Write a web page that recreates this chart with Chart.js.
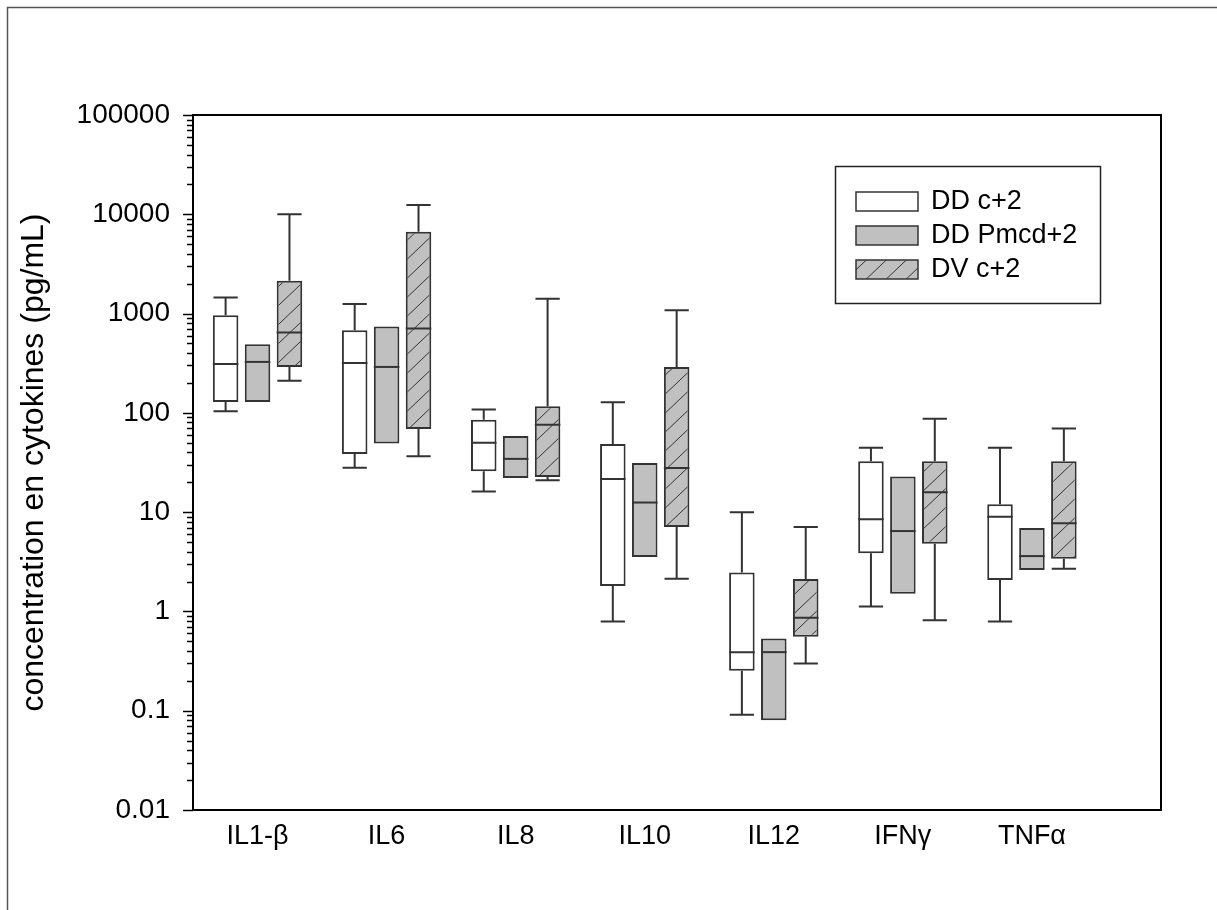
<!DOCTYPE html>
<html>
<head>
<meta charset="utf-8">
<script src="https://cdn.jsdelivr.net/npm/chart.js@4.4.1/dist/chart.umd.min.js"></script>
<style>
  body { margin: 0; background: #fff; }
</style>
</head>
<body>
<canvas id="cytokineChart" width="1217" height="910"></canvas>
<script>
// Box plot data, one row per cytokine: [min, q1, median, q3, max]
// (null = no whisker drawn)

const categories = ["IL1-β", "IL6", "IL8", "IL10", "IL12", "IFNγ", "TNFα"];

const ddC2 = [
    [104, 129, 311, 964, 1450],
    [28, 38.5, 318, 680, 1250],
    [16.1, 25.8, 50, 85, 108],
    [0.79, 1.8, 21.6, 48.6, 128],
    [0.091, 0.252, 0.389, 2.46, 10],
    [1.12, 3.85, 8.46, 32.5, 44.6],
    [0.79, 2.07, 9.0, 12.0, 44.6]
];

const ddPmcd2 = [
    [null, 129, 326, 492, null],
    [null, 49, 290, 741, null],
    [null, 22.1, 34.4, 58.6, null],
    [null, 3.53, 12.5, 31.3, null],
    [null, 0.080, 0.389, 0.534, null],
    [null, 1.51, 6.45, 22.8, null],
    [null, 2.61, 3.61, 6.92, null]
];

const dvC2 = [
    [210, 290, 645, 2136, 10000],
    [36.5, 68.9, 707, 6665, 12380],
    [20.9, 22.6, 75.7, 116.6, 1409],
    [2.13, 7.08, 27.9, 290, 1082],
    [0.299, 0.556, 0.865, 2.12, 7.08],
    [0.817, 4.81, 15.9, 32.5, 87],
    [2.69, 3.40, 7.71, 32.5, 69.5]
];

const yTickLabels = ["0.01", "0.1", "1", "10", "100", "1000", "10000", "100000"];

const FONT = "'Liberation Sans', Arial, sans-serif";
const LINE = "#333";


// Hatch pattern for DV c+2

function hatchPattern() {
    const c = document.createElement("canvas");
    c.width = 20;
    c.height = 19;
    const g = c.getContext("2d");
    g.fillStyle = "#c0c0c0";
    g.fillRect(0, 0, 20, 19);
    g.strokeStyle = "#333";
    g.lineWidth = 1;
    g.beginPath();
    for (const dx of [-20, 0, 20]) {
        g.moveTo(dx, 19);
        g.lineTo(dx + 20, 0);
    }
    g.stroke();
    return g.createPattern(c, "repeat");
}

const hatch = hatchPattern();

function boxDataset(label, stats, fill) {
    return {
        label: label,
        stats: stats,
        data: stats.map((s, i) => ({ x: i + 1, y: [s[1], s[3]] })),
        backgroundColor: fill,
        borderColor: LINE,
        borderWidth: 2,
        borderSkipped: false
    };
}


// Whiskers, medians, frame, log ticks and legend

const boxPlotExtras = {
    id: "boxPlotExtras",

    beforeDraw(chart) {
        const ctx = chart.ctx;
        ctx.save();
        ctx.strokeStyle = "#555";
        ctx.lineWidth = 1.5;
        ctx.beginPath();
        ctx.moveTo(7.5, chart.height);
        ctx.lineTo(7.5, 7.5);
        ctx.lineTo(chart.width, 7.5);
        ctx.stroke();
        ctx.restore();
    },

    afterDatasetsDraw(chart) {
        const ctx = chart.ctx;
        const y = chart.scales.y;
        ctx.save();
        ctx.strokeStyle = LINE;
        ctx.lineWidth = 2;
        chart.data.datasets.forEach((ds, di) => {
            chart.getDatasetMeta(di).data.forEach((bar, i) => {
                const [min, q1, med, q3, max] = ds.stats[i];
                const half = bar.width / 2;
                const cap = half * 0.95;
                ctx.beginPath();
                if (max !== null) {
                    const py = y.getPixelForValue(max);
                    ctx.moveTo(bar.x, y.getPixelForValue(q3));
                    ctx.lineTo(bar.x, py);
                    ctx.moveTo(bar.x - cap, py);
                    ctx.lineTo(bar.x + cap, py);
                }
                if (min !== null) {
                    const py = y.getPixelForValue(min);
                    ctx.moveTo(bar.x, y.getPixelForValue(q1));
                    ctx.lineTo(bar.x, py);
                    ctx.moveTo(bar.x - cap, py);
                    ctx.lineTo(bar.x + cap, py);
                }
                const pm = y.getPixelForValue(med);
                ctx.moveTo(bar.x - half, pm);
                ctx.lineTo(bar.x + half, pm);
                ctx.stroke();
            });
        });
        ctx.restore();
    },

    afterDraw(chart) {
        const ctx = chart.ctx;
        const area = chart.chartArea;
        const y = chart.scales.y;
        ctx.save();

        // plot frame
        ctx.strokeStyle = "#000";
        ctx.lineWidth = 2;
        ctx.strokeRect(area.left, area.top, area.right - area.left, area.bottom - area.top);

        // major + minor log ticks, outward on the left
        ctx.lineWidth = 1.5;
        ctx.beginPath();
        yTickLabels.forEach((t, i) => {
            const decade = Number(t);
            const py = Math.round(y.getPixelForValue(decade)) + 0.5;
            ctx.moveTo(area.left - 10, py);
            ctx.lineTo(area.left, py);
            if (i < yTickLabels.length - 1) {
                for (let k = 2; k <= 9; k++) {
                    const pk = Math.round(y.getPixelForValue(k * decade)) + 0.5;
                    ctx.moveTo(area.left - 6, pk);
                    ctx.lineTo(area.left, pk);
                }
            }
        });
        ctx.stroke();

        // legend box
        const lx = area.left + 642;
        const ly = area.top + 51;
        ctx.strokeStyle = "#222";
        ctx.lineWidth = 1.5;
        ctx.strokeRect(lx + 0.5, ly + 0.5, 265, 137);
        ctx.font = "27px " + FONT;
        ctx.textBaseline = "middle";
        ctx.fillStyle = "#000";
        chart.data.datasets.forEach((ds, i) => {
            const cy = ly + 35 + i * 34;
            ctx.fillStyle = ds.backgroundColor;
            ctx.fillRect(lx + 21, cy - 9, 62, 19);
            ctx.strokeStyle = LINE;
            ctx.lineWidth = 1.5;
            ctx.strokeRect(lx + 21, cy - 9, 62, 19);
            ctx.fillStyle = "#000";
            ctx.fillText(ds.label, lx + 96, cy + 1);
        });

        ctx.restore();
    }
};


// Cytokine Box Plot Chart

const cytokineChart = new Chart(document.getElementById("cytokineChart"), {
    type: "bar",

    data: {
        datasets: [
            boxDataset("DD c+2", ddC2, "#ffffff"),
            boxDataset("DD Pmcd+2", ddPmcd2, "#c0c0c0"),
            boxDataset("DV c+2", dvC2, hatch)
        ]
    },

    options: {
        responsive: false,
        animation: false,
        categoryPercentage: 0.742,
        barPercentage: 0.8,
        layout: {
            padding: { left: 0, top: 115, right: 56, bottom: 0 }
        },
        plugins: {
            legend: { display: false },
            tooltip: { enabled: false }
        },
        scales: {
            x: {
                type: "linear",
                min: 0.5,
                max: 8,
                offset: false,
                grid: { display: false, drawTicks: false },
                border: { display: false },
                afterBuildTicks: scale => {
                    scale.ticks = categories.map((c, i) => ({ value: i + 1 }));
                },
                afterFit: scale => { scale.height = 100; },
                ticks: {
                    autoSkip: false,
                    maxRotation: 0,
                    padding: 10,
                    color: "#000",
                    font: { family: FONT, size: 27 },
                    callback: (value, index) => categories[index]
                }
            },
            y: {
                type: "logarithmic",
                min: 0.01,
                max: 100000,
                grid: { display: false, drawTicks: false },
                border: { display: false },
                afterBuildTicks: scale => {
                    scale.ticks = yTickLabels.map(t => ({ value: Number(t) }));
                },
                afterFit: scale => { scale.width = 193; },
                ticks: {
                    autoSkip: false,
                    padding: 23,
                    color: "#000",
                    font: { family: FONT, size: 28 },
                    callback: (value, index) => yTickLabels[index]
                },
                title: {
                    display: true,
                    text: "concentration en cytokines (pg/mL)",
                    color: "#000",
                    font: { family: FONT, size: 32 },
                    padding: { top: 15, bottom: 0 }
                }
            }
        }
    },

    plugins: [boxPlotExtras]
});
</script>
</body>
</html>
